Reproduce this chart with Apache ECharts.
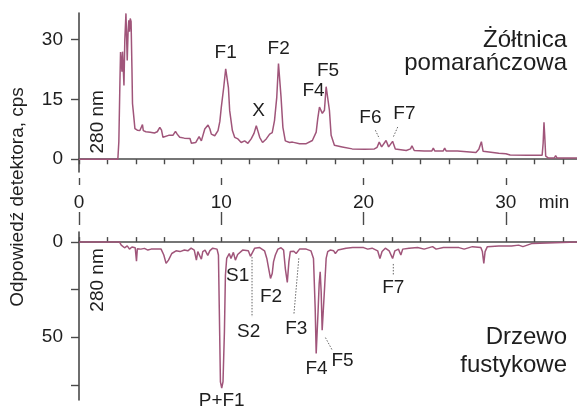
<!DOCTYPE html>
<html><head><meta charset="utf-8">
<script src="https://cdn.jsdelivr.net/npm/echarts@6/dist/echarts.min.js"></script>
<style>html,body{margin:0;padding:0;background:#fff}#c{width:577px;height:412px}</style>
</head><body><div id="c"></div>
<script>
// ---- data ----
const topTime = [0,2.73,2.8,2.88,2.92,2.97,3.02,3.06,3.12,3.16,3.22,3.3,3.35,3.39,3.45,3.5,3.55,3.6,3.66,3.72,3.76,3.81,3.93,4.1,4.28,4.4,4.46,4.52,4.7,5.0,5.3,5.5,5.68,5.8,5.9,6.0,6.3,6.6,6.78,6.9,7.08,7.4,7.8,7.9,8.2,8.44,8.6,8.84,9.07,9.2,9.3,9.54,9.77,9.9,10.0,10.17,10.31,10.4,10.5,10.59,10.78,10.94,11.17,11.4,11.64,11.87,12.1,12.3,12.46,12.58,12.7,12.9,13.16,13.4,13.58,13.74,13.9,14.02,14.1,14.2,14.33,14.5,14.8,15.0,15.5,15.97,16.4,16.67,16.78,16.9,17.0,17.1,17.17,17.25,17.37,17.48,17.6,17.72,17.95,18.5,19.2,20.05,20.76,20.95,21.1,21.27,21.58,21.76,22.04,22.23,23.0,23.3,23.4,23.56,24.26,24.8,24.9,25.0,25.6,25.7,25.8,26.6,26.7,27.9,28.1,28.28,28.4,28.5,29.5,30.0,30.3,31.5,32.55,32.62,32.68,32.73,32.8,33.0,33.4,33.5,33.6,35];
const topSignal = [0,0,4.4,20,26.9,27.2,22,27,22,18.5,30,36.6,30,24.8,32,34.9,32,35.3,34.6,23,14,12.2,7.7,7.3,7.2,7.5,8.7,7.2,6.9,6.8,6.6,6.9,8.0,7.3,5.5,6.0,6.0,6.0,7.0,6.3,5.5,5.3,5.2,4.0,4.2,5.7,4.6,7.6,8.6,7.6,6.3,5.9,7.2,9.5,13,18,22.7,22.8,18,12.2,7.2,5.5,5.1,4.2,4.6,4.0,5.1,6.5,8.4,7.0,5.5,4.2,5.1,6.3,6.7,9.7,15.6,24,23.9,15.6,8,4.6,4.2,4.3,3.9,3.9,4.7,6.8,10.2,13.1,13.3,11.5,11.0,12.3,18.2,18.3,12.3,6,3.5,3.1,2.6,2.5,2.6,3.0,4.3,3.1,4.7,3.1,4.5,2.6,2.2,2.6,3.4,2.2,2.1,2.1,2.8,2.1,2.1,2.8,2.1,2.1,1.7,1.7,2.5,4.4,2.0,1.5,1.5,1.4,1.05,1.0,1.0,4,9.3,6,0.8,0.3,0.3,0.9,0.3,0.3];
const bottomTime = [0,2.85,2.97,3.2,3.39,3.55,3.72,3.95,4.04,4.1,4.14,4.35,4.6,4.84,5.07,5.77,5.96,6.12,6.29,6.52,6.82,7.1,7.41,7.65,7.88,8.1,8.25,8.35,8.46,8.6,8.7,8.86,9.05,9.2,9.4,9.7,9.8,9.86,9.94,10.03,10.12,10.22,10.29,10.38,10.56,10.68,10.85,10.99,11.15,11.5,11.9,12.05,12.34,12.7,13.04,13.2,13.35,13.46,13.58,13.67,13.8,13.98,14.2,14.38,14.5,14.64,14.75,14.85,14.98,15.1,15.26,15.5,15.97,16.3,16.48,16.6,16.67,16.75,16.8,16.88,16.95,17.02,17.09,17.18,17.27,17.37,17.48,17.65,17.9,18.02,18.2,18.77,19.24,20.0,20.29,20.6,20.99,21.15,21.3,21.53,21.8,22.04,22.2,22.45,22.62,22.75,23.2,23.8,24.26,24.85,25.1,25.6,26.7,27.07,27.65,28.24,28.35,28.45,28.54,28.7,29.5,30.4,30.9,31.2,31.86,32.0,35];
const bottomSignal = [0,0,1.6,3.0,2.0,3.7,2.6,3.0,10,3.5,3.0,3.7,3.3,4.2,3.7,3.7,6.8,11.2,9.5,6,4.6,5,4.2,4.6,3.2,4.2,9.5,5,4.2,9,5,4.2,7,4.5,3.2,3.7,6.8,35,73.5,76.7,73.5,47.2,17.4,8.6,6,8.6,5.4,9.5,6.5,4.2,4.6,7.5,3.3,2.9,4.6,8.6,14.7,19.1,16.5,10.4,6.8,3.7,3,4.2,13.9,21.2,10.4,5,4.6,4.8,6,3.7,3.7,4.6,8.6,35,58.6,58.6,36.7,21.8,15.6,26.1,46.3,46.3,22.6,8.6,5,4.2,4.6,6,4.2,3.2,2.9,2.9,3.7,3.2,4.6,8.6,5,3.2,4.6,8.6,4.6,3.7,6.8,3.7,3.2,2.9,3.7,2.4,3.7,2.9,2.9,3.7,2.4,2.9,5,11.2,5,2.4,2.0,2.0,1.6,2.4,0.7,0,0];
const majorXTicks = [0,10,20,30];
const minorXTicks = [0,2,4,6,8,10,12,14,16,18,20,22,24,26,28,30,32,34];
const topYTicks = [0,15,30];
const bottomYTicks = [0,25,50,75];
const bottomYLabels = [0,50];

// ---- style ----
const FONT = "'Liberation Sans', Arial, sans-serif";
const TXT = '#1e1e1e', AX = '#4a4a4a', TRACE = '#a0557a', LEAD = '#666';

const chart = echarts.init(document.getElementById('c'), null, {renderer: 'canvas'});
const axLine = {show: true, lineStyle: {color: AX, width: 1.6}};
const lbl = {fontSize: 19, color: TXT, fontFamily: FONT};

chart.setOption({
  animation: false,
  grid: [
    {left: 79, top: 13, width: 499, height: 159},
    {left: 79, top: 232, width: 499, height: 168}
  ],
  xAxis: [
    {gridIndex: 0, type: 'value', min: 0, max: 35, position: 'bottom', offset: 6,
     axisLine: axLine, axisTick: {show: true, customValues: minorXTicks, length: 5, lineStyle: {color: AX, width: 1.4}},
     axisLabel: {show: false}, splitLine: {show: false}},
    {gridIndex: 0, type: 'value', min: 0, max: 35, position: 'bottom', offset: 6,
     axisLine: {show: false}, axisTick: {show: true, customValues: majorXTicks, length: 7, lineStyle: {color: AX, width: 1.4}},
     axisLabel: Object.assign({customValues: majorXTicks, margin: 15}, lbl), splitLine: {show: false}},
    {gridIndex: 1, type: 'value', min: 0, max: 35, position: 'top', offset: 7,
     axisLine: axLine, axisTick: {show: true, customValues: minorXTicks, length: 5, lineStyle: {color: AX, width: 1.4}},
     axisLabel: {show: false}, splitLine: {show: false}},
    {gridIndex: 1, type: 'value', min: 0, max: 35, position: 'top', offset: 7,
     axisLine: {show: false}, axisTick: {show: true, customValues: majorXTicks, length: 13, lineStyle: {color: AX, width: 1.4}},
     axisLabel: {show: false}, splitLine: {show: false}}
  ],
  yAxis: [
    {gridIndex: 0, type: 'value', min: -3.2, max: 36.7, offset: 2,
     axisLine: axLine, axisTick: {show: true, customValues: topYTicks, length: 8, lineStyle: {color: AX, width: 1.4}},
     axisLabel: Object.assign({customValues: topYTicks, margin: 14}, lbl), splitLine: {show: false}},
    {gridIndex: 1, type: 'value', inverse: true, min: -5.3, max: 83, offset: 2,
     axisLine: axLine, axisTick: {show: true, customValues: bottomYTicks, length: 8, lineStyle: {color: AX, width: 1.4}},
     axisLabel: Object.assign({customValues: bottomYLabels, margin: 14}, lbl), splitLine: {show: false}}
  ],
  series: [
    {type: 'line', xAxisIndex: 0, yAxisIndex: 0, data: topTime.map((t, i) => [t, topSignal[i]]),
     symbol: 'none', lineStyle: {color: TRACE, width: 1.5}, itemStyle: {color: TRACE}},
    {type: 'line', xAxisIndex: 2, yAxisIndex: 1, data: bottomTime.map((t, i) => [t, bottomSignal[i]]),
     symbol: 'none', lineStyle: {color: TRACE, width: 1.5}, itemStyle: {color: TRACE}}
  ]
});

// ---- annotations (anchored in data coordinates) ----
const topNotes = [
  ['F1', 10.31, 26.7], ['F2', 14.03, 27.7], ['X', 12.63, 12.2], ['F4', 16.48, 17.2],
  ['F5', 17.5, 22.2], ['F6', 20.48, 10.5], ['F7', 22.87, 11.3], ['280 nm', 1.33, 9.4, true]
];
const topLeads = [[20.83, 7.28, 21.11, 5.2], [22.4, 8.1, 22.09, 5.6]];
const botNotes = [
  ['S1', 11.15, 17.8], ['S2', 11.92, 47], ['F2', 13.5, 28.6], ['F3', 15.27, 45.4],
  ['F4', 16.69, 66.4], ['F5', 18.52, 62.5], ['F7', 22.09, 23.9], ['P+F1', 10.03, 83.5], ['280 nm', 1.33, 19.9, true]
];
const botLeads = [[12.16, 7.8, 12.16, 39.4], [15.45, 8.5, 15.1, 38.3], [17.32, 50.2, 17.79, 56.7], [22.09, 11.5, 22.09, 17.3]];

const g = [];
function text(str, x, y, size, align, rot) {
  g.push({type: 'text', x: x, y: y, rotation: rot || 0, z: 10,
    style: {text: str, fontSize: size, fontFamily: FONT, fill: TXT, align: align || 'center', verticalAlign: 'middle'}});
}
function addNotes(si, notes, leads) {
  notes.forEach(n => {
    const p = chart.convertToPixel({seriesIndex: si}, [n[1], n[2]]);
    text(n[0], p[0], p[1], 19, 'center', n[3] ? Math.PI / 2 : 0);
  });
  leads.forEach(l => {
    const a = chart.convertToPixel({seriesIndex: si}, [l[0], l[1]]);
    const b = chart.convertToPixel({seriesIndex: si}, [l[2], l[3]]);
    g.push({type: 'line', z: 10, shape: {x1: a[0], y1: a[1], x2: b[0], y2: b[1]},
      style: {stroke: LEAD, lineWidth: 1, lineDash: [1.5, 1.5]}});
  });
}
addNotes(0, topNotes, topLeads);
addNotes(1, botNotes, botLeads);

// titles, axis unit and axis name
text('Żółtnica', 567, 40, 24, 'right');
text('pomarańczowa', 567, 63, 24, 'right');
text('Drzewo', 567, 337, 24, 'right');
text('fustykowe', 567, 365, 24, 'right');
text('min', 554, 203, 19, 'center');
text('Odpowiedź detektora, cps', 18, 197, 19, 'center', Math.PI / 2);

chart.setOption({graphic: g});
</script>
</body></html>
